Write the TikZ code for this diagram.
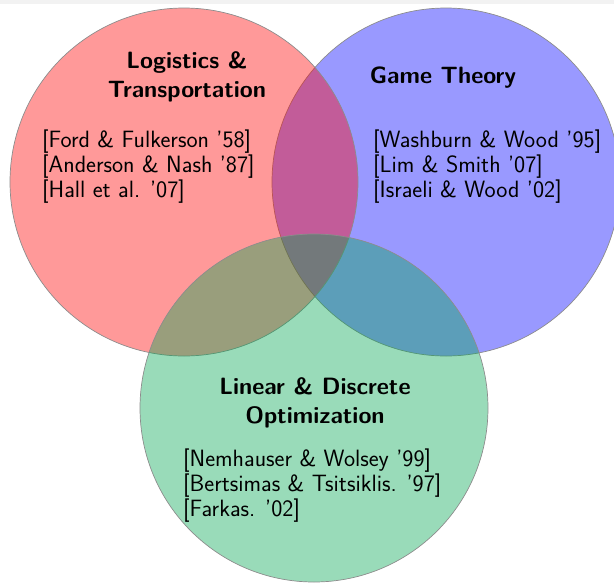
\documentclass[tikz,border=0pt]{standalone}
\usepackage{fontspec}
\definecolor{setred}{rgb}{1,0,0}
\definecolor{setblue}{rgb}{0,0,1}
\definecolor{setgreen}{rgb}{0,0.65,0.315}
\definecolor{topstrip}{HTML}{F2F2F2}
\begin{document}
\begin{tikzpicture}[x=1pt,y=-1pt,
  setcircle/.style={draw=black!45, line width=0.7pt, fill opacity=0.4},
  areatitle/.style={font=\sffamily\bfseries\fontsize{23.6}{29}\selectfont, align=center, inner sep=0pt, anchor=base},
  reflist/.style={font=\sffamily\fontsize{23.6}{25}\selectfont, align=left, inner sep=0pt, anchor=base west}]
  \useasboundingbox (0,0) rectangle (614,582);
  \clip (0,0) rectangle (614,582);
  \fill[topstrip] (0,0) rectangle (614,4);

  % the three research areas
  \draw[setcircle, fill=setblue]  (446,182) circle[radius=174];
  \draw[setcircle, fill=setred]   (184,182) circle[radius=174];
  \draw[setcircle, fill=setgreen] (314,408) circle[radius=174];

  % area titles (base anchor sits on the last line)
  \node[areatitle] (logt) at (187,97) {Logistics \&\\Transportation};
  \node[areatitle] (gamet) at (443,83) {Game Theory};
  \node[areatitle] (optt) at (315,423) {Linear \& Discrete\\Optimization};

  % references per area
  \node[reflist] (logr) at (42,197.5) {{[}Ford \& Fulkerson '58{]}\\{[}Anderson \& Nash '87{]}\\{[}Hall et al. '07{]}};
  \node[reflist] (gamer) at (373,197.5) {{[}Washburn \& Wood '95{]}\\{[}Lim \& Smith '07{]}\\{[}Israeli \& Wood '02{]}};
  \node[reflist] (optr) at (183,516.5) {{[}Nemhauser \& Wolsey '99{]}\\{[}Bertsimas \& Tsitsiklis. '97{]}\\{[}Farkas. '02{]}};
\end{tikzpicture}
\end{document}
